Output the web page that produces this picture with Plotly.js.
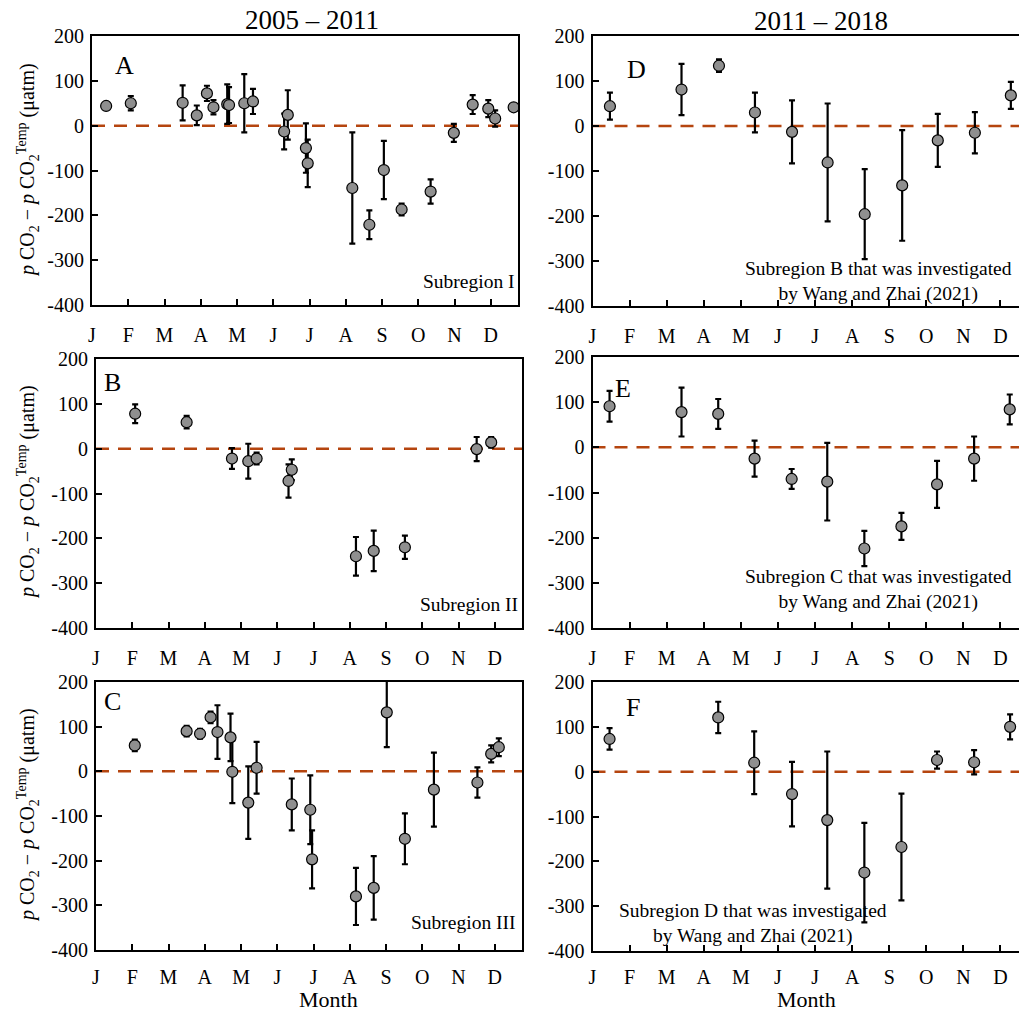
<!DOCTYPE html>
<html>
<head>
<meta charset="utf-8">
<script src="https://cdn.plot.ly/plotly-3.0.1.min.js"></script>
<style>html,body{margin:0;padding:0;background:#fff;}#chart{width:1019px;height:1013px;}</style>
</head>
<body>
<div id="chart"></div>
<script>
// ---- Data (month position as fractional month from Jan 1; value; ± error) ----
const monthLabels = ['J','F','M','A','M','J','J','A','S','O','N','D'];
const monthTickVals = [0,1,2,3,4,5,6,7,8,9,10,11];
const yTickVals = [-400,-300,-200,-100,0,100,200];
const yTickText = ['-400','-300','-200','-100','0','100','200'];

// Panel A: 2005–2011, Subregion I
const xA = [0.39,1.07,2.50,2.89,3.17,3.35,3.73,3.78,4.20,4.44,5.30,5.40,5.90,5.95,7.18,7.65,8.05,8.54,9.34,9.98,10.50,10.93,11.12,11.63];
const yA = [44,50,51,23,72,41,48,46,50,54,-13,24,-50,-84,-139,-221,-99,-187,-147,-16,47,38,16,41];
const eA = [0,16,39,22,17,16,44,40,65,28,40,55,55,53,124,32,65,13,27,20,21,19,18,0];

// Panel B: 2005–2011, Subregion II
const xB = [1.08,2.50,3.75,4.20,4.43,5.31,5.40,7.17,7.66,8.52,10.50,10.90];
const yB = [78,59,-22,-28,-22,-72,-47,-240,-228,-220,-1,14];
const eB = [21,14,23,39,13,37,23,43,45,26,27,12];

// Panel C: 2005–2011, Subregion III
const xC = [1.07,2.50,2.87,3.16,3.35,3.71,3.76,4.20,4.43,5.40,5.91,5.96,7.17,7.66,8.02,8.52,9.32,10.52,10.90,11.11];
const yC = [58,90,84,121,88,76,-1,-70,8,-74,-86,-197,-280,-261,132,-151,-41,-25,39,54];
const eC = [13,12,11,13,60,53,70,81,58,58,77,65,64,71,78,57,83,34,19,20];

// Panel D: 2011–2018, Subregion B
const xD = [0.47,2.40,3.41,4.38,5.38,6.34,7.34,8.35,9.31,10.31,11.28];
const yD = [44,81,134,30,-13,-81,-196,-132,-32,-15,68];
const eD = [30,57,14,44,70,131,100,123,59,46,30];

// Panel E: 2011–2018, Subregion C
const xE = [0.46,2.40,3.39,4.37,5.37,6.33,7.33,8.33,9.29,10.29,11.25];
const yE = [91,78,74,-25,-70,-76,-224,-175,-82,-25,84];
const eE = [34,54,33,40,22,86,39,30,52,49,33];

// Panel F: 2011–2018, Subregion D
const xF = [0.46,3.39,4.36,5.38,6.33,7.33,8.33,9.29,10.29,11.26];
const yF = [73,121,20,-50,-108,-225,-168,26,21,100];
const eF = [24,35,70,72,153,111,119,19,27,28];

const panelLetters = ['A','B','C','D','E','F'];
const regionLabels = ['Subregion I','Subregion II','Subregion III',
  'Subregion B that was investigated<br>by Wang and Zhai (2021)',
  'Subregion C that was investigated<br>by Wang and Zhai (2021)',
  'Subregion D that was investigated<br>by Wang and Zhai (2021)'];
const periodTitles = ['2005 – 2011','2011 – 2018'];
const yTitle = '<i>p</i> CO<sub>2</sub> − <i>p</i> CO<sub>2</sub><sup>Temp</sup> (μatm)';
const xTitle = 'Month';

// ---- Layout geometry ----
const W = 1019, H = 1013;
const FONT = 'Liberation Serif, Times New Roman, serif';
const px = (x) => x / W;
const py = (y) => 1 - y / H;

const panels = [
  {x: xA, y: yA, e: eA, dom: [92, 518, 36, 305], xmax: 11.75, mirrorY: true, stand: 11},
  {x: xB, y: yB, e: eB, dom: [96, 522, 359, 628], xmax: 11.75, mirrorY: true, stand: 11},
  {x: xC, y: yC, e: eC, dom: [96, 522, 682, 950], xmax: 11.75, mirrorY: true, stand: 8},
  {x: xD, y: yD, e: eD, dom: [592.5, 1019, 36, 306], xmax: 11.5, mirrorY: false, stand: 11},
  {x: xE, y: yE, e: eE, dom: [592.5, 1019, 357, 628], xmax: 11.5, mirrorY: false, stand: 11},
  {x: xF, y: yF, e: eF, dom: [592.5, 1019, 682, 951], xmax: 11.5, mirrorY: false, stand: 7}
];

const traces = [];
const layout = {
  width: W, height: H,
  margin: {l: 0, r: 0, t: 0, b: 0},
  paper_bgcolor: '#ffffff', plot_bgcolor: '#ffffff',
  showlegend: false,
  font: {family: FONT, color: '#000', size: 20},
  shapes: [], annotations: []
};

panels.forEach((p, i) => {
  const n = i + 1;
  const xa = 'x' + (n === 1 ? '' : n), ya = 'y' + (n === 1 ? '' : n);
  traces.push({
    type: 'scatter', mode: 'markers', x: p.x, y: p.y,
    xaxis: xa, yaxis: ya, cliponaxis: false,
    marker: {size: 11, color: '#8f8f8f', line: {color: '#000', width: 1.2}},
    error_y: {type: 'data', array: p.e, visible: true, color: '#000', thickness: 2.2, width: 3}
  });
  const axX = {
    domain: [px(p.dom[0]), px(p.dom[1])], range: [0, p.xmax],
    anchor: ya, showgrid: false, zeroline: false,
    showline: true, linecolor: '#000', linewidth: 2, mirror: true,
    ticks: 'inside', ticklen: 6, tickwidth: 2, tickcolor: '#000',
    tickmode: 'array', tickvals: monthTickVals, ticktext: monthLabels,
    ticklabelstandoff: p.stand,
    tickfont: {family: FONT, size: 20, color: '#000'}
  };
  const axY = {
    domain: [py(p.dom[3]), py(p.dom[2])], range: [-400, 200],
    anchor: xa, showgrid: false, zeroline: false,
    showline: true, linecolor: '#000', linewidth: 2, mirror: p.mirrorY,
    ticks: 'inside', ticklen: 6, tickwidth: 2, tickcolor: '#000',
    tickmode: 'array', tickvals: yTickVals, ticktext: yTickText,
    ticklabelstandoff: 2,
    tickfont: {family: FONT, size: 20, color: '#000'}
  };
  layout['xaxis' + (n === 1 ? '' : n)] = axX;
  layout['yaxis' + (n === 1 ? '' : n)] = axY;
  layout.shapes.push({
    type: 'line', xref: xa + ' domain', yref: ya, x0: 0, x1: 1, y0: 0, y1: 0,
    line: {color: '#b5450f', width: 2.5, dash: '13px,9px'}, layer: 'below'
  });
});

// Panel letters
const letterPos = [[124, 65], [112, 382], [112, 701], [636, 70], [623, 388], [633, 707]];
letterPos.forEach((pp, i) => {
  layout.annotations.push({xref: 'paper', yref: 'paper', x: px(pp[0]), y: py(pp[1]),
    text: panelLetters[i], showarrow: false, xanchor: 'center', yanchor: 'middle',
    font: {family: FONT, size: 26, color: '#000'}});
});
// Subregion labels
const regPos = [[517, 282, 'right'], [520, 604, 'right'], [518, 922, 'right'],
                [878, 282, 'center'], [878, 589, 'center'], [753, 923, 'center']];
regPos.forEach((pp, i) => {
  layout.annotations.push({xref: 'paper', yref: 'paper', x: px(pp[0]), y: py(pp[1]),
    text: regionLabels[i], showarrow: false, xanchor: pp[2], yanchor: 'middle', align: 'center',
    font: {family: FONT, size: 19.5, color: '#000'}});
});
// Column titles
[[312, 20], [821, 21]].forEach((pp, i) => {
  layout.annotations.push({xref: 'paper', yref: 'paper', x: px(pp[0]), y: py(pp[1]),
    text: periodTitles[i], showarrow: false, xanchor: 'center', yanchor: 'middle',
    font: {family: FONT, size: 27, color: '#000'}});
});
// Month titles
[[328, 999], [806, 999]].forEach((pp) => {
  layout.annotations.push({xref: 'paper', yref: 'paper', x: px(pp[0]), y: py(pp[1]),
    text: xTitle, showarrow: false, xanchor: 'center', yanchor: 'middle', borderpad: 0,
    font: {family: FONT, size: 22, color: '#000'}});
});
// Y titles
[[28, 170], [28, 492], [28, 815]].forEach((pp) => {
  layout.annotations.push({xref: 'paper', yref: 'paper', x: px(pp[0]), y: py(pp[1]),
    text: yTitle, showarrow: false, textangle: -90, xanchor: 'center', yanchor: 'middle',
    font: {family: FONT, size: 20, color: '#000'}});
});

Plotly.newPlot('chart', traces, layout, {displayModeBar: false, staticPlot: true});
</script>
</body>
</html>
